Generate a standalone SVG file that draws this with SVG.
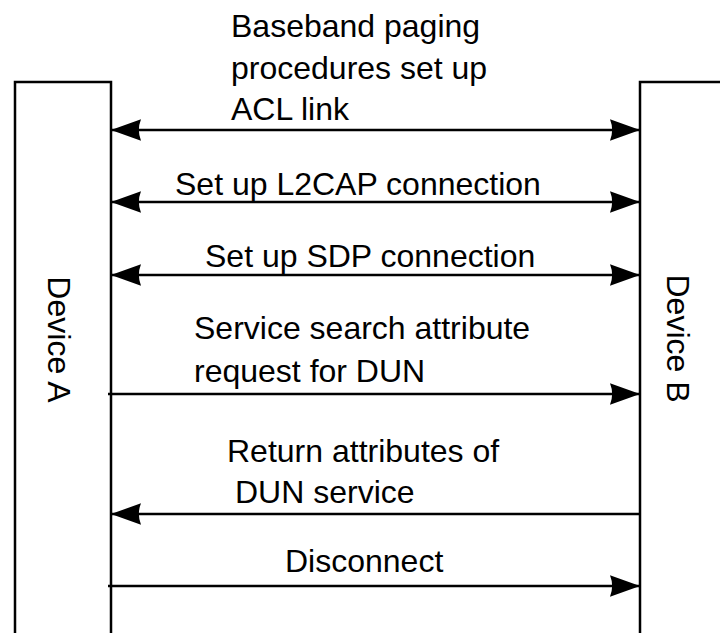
<svg xmlns="http://www.w3.org/2000/svg" width="720" height="633" viewBox="0 0 720 633">
  <style>
    .lbl { font-family: "Liberation Sans", Arial, sans-serif; font-size: 32px; fill: #000; }
    .box { fill: none; stroke: #000; stroke-width: 2.5; }
    .msg { fill: none; stroke: #000; stroke-width: 2.5; }
  </style>
  <defs>
    <marker id="head" markerUnits="userSpaceOnUse" markerWidth="30" markerHeight="22" viewBox="0 0 28 20" refX="28" refY="10" orient="auto-start-reverse">
      <path d="M0,0 L28,10 L0,20 Q4,10 0,0 Z" fill="#000"/>
    </marker>
  </defs>

  <rect width="720" height="633" fill="#fff"/>

  <!-- Device A lifeline -->
  <g id="deviceA">
    <path class="box" d="M15,633 V82 H111 V633"/>
    <text class="lbl" text-anchor="middle" transform="translate(48,339.5) rotate(90)">Device A</text>
  </g>

  <!-- Device B lifeline -->
  <g id="deviceB">
    <path class="box" d="M640,633 V82 H722"/>
    <text class="lbl" text-anchor="middle" transform="translate(667,338.5) rotate(90)">Device B</text>
  </g>

  <!-- Messages -->
  <g id="connectors">
    <line class="msg" x1="111" y1="130" x2="640" y2="130" marker-start="url(#head)" marker-end="url(#head)"/>
    <line class="msg" x1="111" y1="202" x2="640" y2="202" marker-start="url(#head)" marker-end="url(#head)"/>
    <line class="msg" x1="111" y1="275" x2="640" y2="275" marker-start="url(#head)" marker-end="url(#head)"/>
    <line class="msg" x1="108" y1="394" x2="640" y2="394" marker-end="url(#head)"/>
    <line class="msg" x1="640" y1="514" x2="111" y2="514" marker-end="url(#head)"/>
    <line class="msg" x1="108" y1="586" x2="640" y2="586" marker-end="url(#head)"/>
  </g>

  <!-- Message labels -->
  <g id="labels" class="lbl">
    <text x="231" y="37">Baseband paging</text>
    <text x="231" y="79">procedures set up</text>
    <text x="231" y="120">ACL link</text>
    <text x="175" y="195">Set up L2CAP connection</text>
    <text x="205" y="267">Set up SDP connection</text>
    <text x="194" y="339">Service search attribute</text>
    <text x="194" y="382">request for DUN</text>
    <text x="227" y="462">Return attributes of</text>
    <text x="235" y="503">DUN service</text>
    <text x="285" y="572">Disconnect</text>
  </g>
</svg>
